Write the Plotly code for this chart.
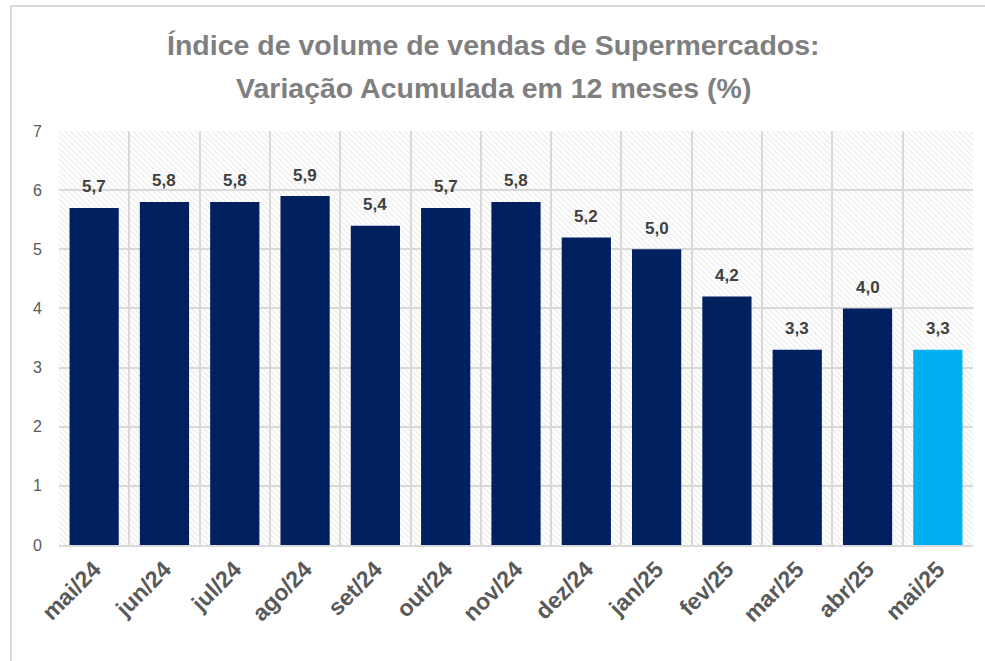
import plotly.graph_objects as go

categories = ["mai/24", "jun/24", "jul/24", "ago/24", "set/24", "out/24", "nov/24",
              "dez/24", "jan/25", "fev/25", "mar/25", "abr/25", "mai/25"]
values = [5.7, 5.8, 5.8, 5.9, 5.4, 5.7, 5.8, 5.2, 5.0, 4.2, 3.3, 4.0, 3.3]
colors = ["#002060"] * 12 + ["#00B0F0"]
title_lines = ["Índice de volume de vendas de Supermercados:",
               "Variação Acumulada em 12 meses (%)"]
y_max = 7

H = 661
title_font = dict(family="Liberation Sans", size=28.5, color="#7f7f7f")

fig = go.Figure()

# hatched background of the plot area (decoration spanning all categories)
fig.add_trace(go.Bar(
    x=[categories[len(categories) // 2]], y=[y_max], width=[len(categories)],
    marker=dict(color="rgba(0,0,0,0)", line=dict(width=0),
                pattern=dict(shape="\\", fgcolor="#d6d6d6", bgcolor="rgba(0,0,0,0)",
                             size=4, solidity=0.3)),
    hoverinfo="skip", showlegend=False))

fig.add_trace(go.Bar(
    x=categories, y=values, width=[0.7] * len(categories),
    marker=dict(color=colors, line=dict(width=0)),
    showlegend=False))

annotations = [dict(x=c, y=v, text="<b>" + f"{v:.1f}".replace(".", ",") + "</b>",
                    showarrow=False, yshift=21,
                    font=dict(family="Liberation Sans", size=17, color="#404040"),
                    xref="x", yref="y")
               for c, v in zip(categories, values)]

# two-line title as centered texts
for line, ypix in zip(title_lines, [45, 88]):
    annotations.append(dict(text="<b>" + line + "</b>", xref="paper", yref="paper",
                            x=(493 - 59) / 914, y=(H - 116 - ypix) / 414,
                            xanchor="center", yanchor="middle", showarrow=False,
                            font=title_font))

fig.update_layout(
    width=985, height=H,
    margin=dict(l=59, r=12, t=131, b=116),
    plot_bgcolor="white", paper_bgcolor="white",
    barmode="overlay",
    separators=",.",
    xaxis=dict(type="category", categoryorder="array", categoryarray=categories,
               tickson="boundaries", showgrid=True, gridcolor="#d9d9d9",
               gridwidth=1.5, tickangle=-45, ticks="", showline=True, linecolor="#d9d9d9",
               linewidth=1.5, tickprefix="<b>", ticksuffix="</b>",
               tickfont=dict(family="Liberation Sans", size=23, color="#595959"),
               range=[-0.5, 12.5]),
    yaxis=dict(range=[0, y_max], dtick=1, showgrid=True, gridcolor="#d9d9d9", gridwidth=1.5,
               zeroline=False, ticks="", ticklabelstandoff=16,
               tickfont=dict(family="Liberation Sans", size=16, color="#595959")),
    annotations=annotations,
    shapes=[dict(type="rect", xref="paper", yref="paper", x0=-0.0525, x1=1.1,
                 y0=-0.5, y1=1.302, line=dict(color="#d9d9d9", width=2),
                 layer="below")],
)

fig.write_html("out.html", config={"displayModeBar": False},
               post_script="document.body.style.margin='0';")
